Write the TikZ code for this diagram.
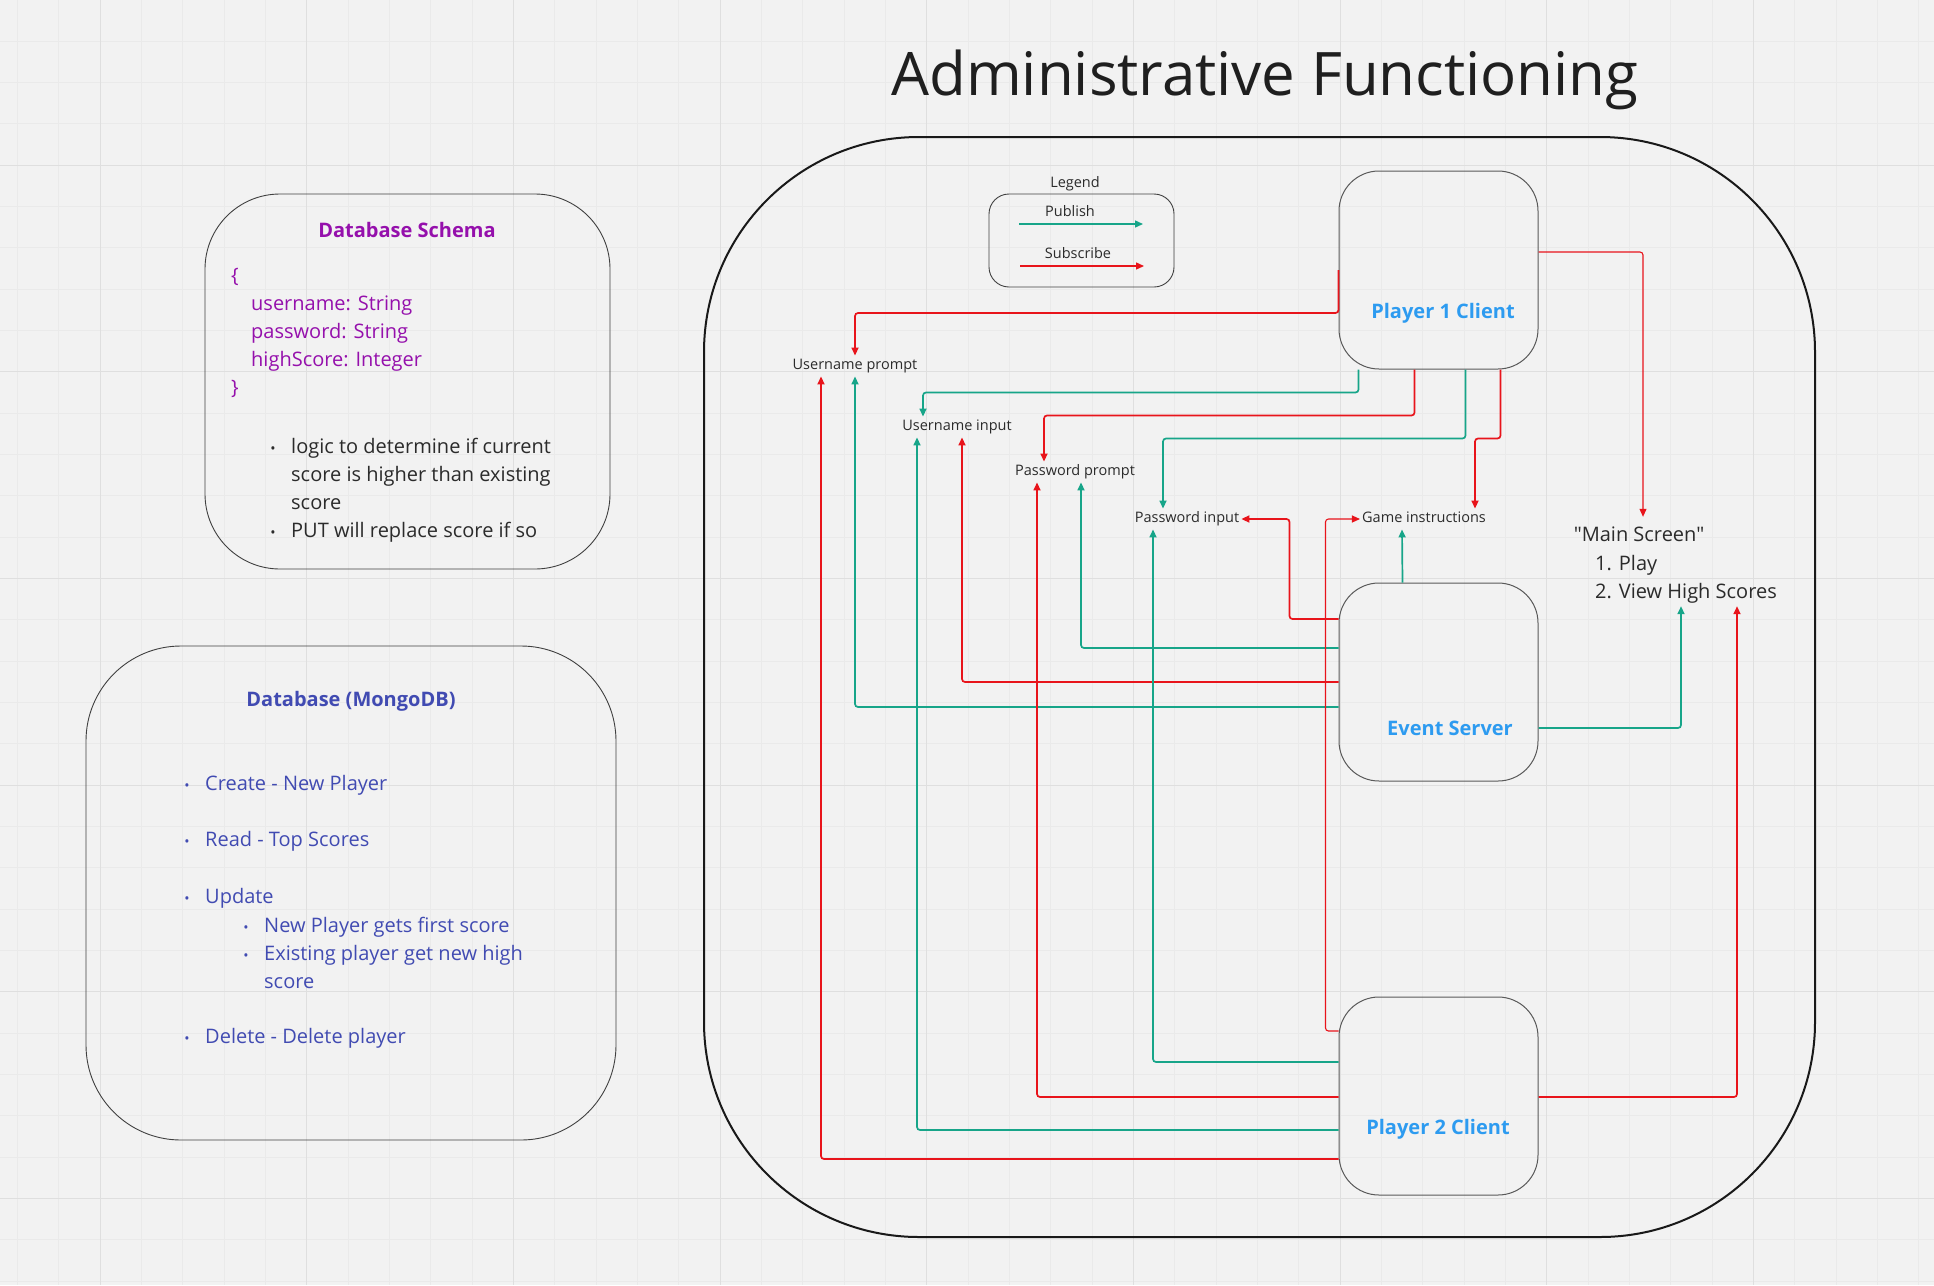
\documentclass[tikz,border=0pt]{standalone}
\usepackage{fontspec}
\setmainfont{Open Sans}[Ligatures=TeXOff]
\usetikzlibrary{arrows.meta}

\definecolor{boardbg}{HTML}{F2F2F2}
\definecolor{gridminor}{HTML}{EAEAEA}
\definecolor{gridmajor}{HTML}{DFDFDF}
\definecolor{pubgreen}{HTML}{17A589}
\definecolor{subred}{HTML}{E8141B}
\definecolor{clientblue}{HTML}{2D9BF0}
\definecolor{schemapurple}{HTML}{9510AC}
\definecolor{mongoblue}{HTML}{414BB2}
\definecolor{inktext}{HTML}{2B2B2B}

\newcommand{\fsz}[1]{\fontsize{#1}{#1}\selectfont}

\begin{document}
\begin{tikzpicture}[x=1pt,y=-1pt,
  client/.style={draw=black!65, line width=1pt, rounded corners=40pt,
    minimum width=199pt, minimum height=198pt, inner sep=0pt},
  clientname/.style={font=\fsz{20}\bfseries, text=clientblue, inner sep=0pt, anchor=base},
  board/.style={draw=black!75, line width=0.9pt, inner sep=0pt},
  lbl/.style={font=\fsz{14.5}, text=inktext, inner xsep=2pt, inner ysep=3pt,
    text height=11pt, text depth=3.5pt},
  pub/.style={draw=pubgreen, line width=1.7pt, rounded corners=3pt,
    -{Triangle[length=8pt,width=7pt]}},
  sub/.style={draw=subred, line width=1.7pt, rounded corners=3pt,
    -{Triangle[length=8pt,width=7pt]}},
]
\useasboundingbox (0,0) rectangle (1934,1285);

% ------------------------------------------------------------------
% Board background and grid (minor every 41.33, major every 206.67)
% ------------------------------------------------------------------
\fill[boardbg] (0,0) rectangle (1934,1285);
\foreach \i in {-2,...,44}{
  \pgfmathsetmacro{\gx}{100+41.333*\i}
  \draw[gridminor, line width=0.8pt] (\gx,0) -- (\gx,1285);
}
\foreach \j in {-3,...,27}{
  \pgfmathsetmacro{\gy}{165+41.333*\j}
  \draw[gridminor, line width=0.8pt] (0,\gy) -- (1934,\gy);
}
\foreach \i in {0,...,8}{
  \pgfmathsetmacro{\gx}{100+206.667*\i}
  \draw[gridmajor, line width=1pt] (\gx,0) -- (\gx,1285);
}
\foreach \j in {0,...,5}{
  \pgfmathsetmacro{\gy}{165+206.667*\j}
  \draw[gridmajor, line width=1pt] (0,\gy) -- (1934,\gy);
}

% bullet item: \dbitem{name}{dot x}{baseline y}{text}{colour}
\newcommand{\dbitem}[5]{%
  \node[font=\fsz{14}, text=#5, anchor=base, inner sep=0pt] (#1dot) at (#2,#3) {•};
  \node[font=\fsz{20}, text=#5, anchor=base west, inner sep=0pt] (#1) at (#2+18,#3) {#4};
}

% Title
\node[font=\fsz{60}, text=black!88, anchor=base] (title) at (1265,95) {Administrative Functioning};

% ------------------------------------------------------------------
% Database Schema
% ------------------------------------------------------------------
\node[board, rounded corners=75pt, minimum width=405pt, minimum height=375pt] (schema) at (407.5,381.5) {};
\node[font=\fsz{20}\bfseries, text=schemapurple, anchor=base, inner sep=0pt] (schematitle) at (407,237) {Database Schema};
\foreach \xx/\yy/\txt [count=\k] in {231/282/\{, 251/310/{username: String},
    251/338/{password: String}, 251/366/{highScore: Integer}, 231/394/\}}
  \node[font=\fsz{20}, text=schemapurple, anchor=base west, inner sep=0pt] (field\k) at (\xx,\yy) {\txt};
\dbitem{logicA}{273}{453}{logic to determine if current}{inktext}
\node[font=\fsz{20}, text=inktext, anchor=base west, inner sep=0pt] (logicB) at (291,481) {score is higher than existing};
\node[font=\fsz{20}, text=inktext, anchor=base west, inner sep=0pt] (logicC) at (291,509) {score};
\dbitem{putrule}{273}{537}{PUT will replace score if so}{inktext}

% ------------------------------------------------------------------
% Database (MongoDB)
% ------------------------------------------------------------------
\node[board, rounded corners=95pt, minimum width=530pt, minimum height=494pt] (mongo) at (351,893) {};
\node[font=\fsz{20}\bfseries, text=mongoblue, anchor=base, inner sep=0pt] (mongotitle) at (351,706) {Database (MongoDB)};
\dbitem{create}{187}{790}{Create - New Player}{mongoblue}
\dbitem{read}{187}{846}{Read - Top Scores}{mongoblue}
\dbitem{update}{187}{903}{Update}{mongoblue}
\dbitem{updnew}{246}{932}{New Player gets first score}{mongoblue}
\dbitem{updold}{246}{960}{Existing player get new high}{mongoblue}
\node[font=\fsz{20}, text=mongoblue, anchor=base west, inner sep=0pt] (updoldb) at (264,988) {score};
\dbitem{delete}{187}{1043}{Delete - Delete player}{mongoblue}

% ------------------------------------------------------------------
% Administrative frame
% ------------------------------------------------------------------
\draw[black!90, line width=2pt, rounded corners=215pt] (704,137) rectangle (1815,1237);

% Legend
\node[board, rounded corners=20pt, minimum width=185pt, minimum height=93pt] (legend) at (1081.5,240.5) {};
\node[lbl] (legendtitle) at (1075,184) {Legend};
\node[lbl] (publish) at (1070,213) {Publish};
\node[lbl] (subscribe) at (1078,255) {Subscribe};
\coordinate (pubA) at (1019,224);
\coordinate (pubB) at (1143,224);
\coordinate (subA) at (1020,266);
\coordinate (subB) at (1144,266);
\draw[pub, line width=1.4pt, rounded corners=0pt] (pubA) -- (pubB);
\draw[sub, line width=1.4pt, rounded corners=0pt] (subA) -- (subB);

% Clients and server
\node[client] (p1) at (1438.5,270) {};
\node[client] (es) at (1438.5,682) {};
\node[client] (p2) at (1438.5,1096) {};
\node[clientname] (p1name) at (1443,318) {Player 1 Client};
\node[clientname] (esname) at (1450,735) {Event Server};
\node[clientname] (p2name) at (1438,1134) {Player 2 Client};

% Screens
\node[lbl] (un) at (855,366) {Username prompt};
\node[lbl] (ui) at (957,427) {Username input};
\node[lbl] (pp) at (1075,472) {Password prompt};
\node[lbl] (pi) at (1187,519) {Password input};
\node[lbl] (gi) at (1424,519) {Game instructions};
\node[font=\fsz{20}, text=inktext, anchor=base, inner xsep=0pt, inner ysep=8pt, text height=16pt] (msT) at (1639,541) {"Main Screen"};
\node[font=\fsz{20}, text=inktext, anchor=base west, inner xsep=0pt, inner ysep=3pt] (ms1) at (1595,570) {1. Play};
\node[font=\fsz{20}, text=inktext, anchor=base west, inner xsep=0pt, inner ysep=3pt, text depth=5pt] (ms2) at (1595,598) {2. View High Scores};

% Player 1 connectors
\draw[sub] (p1.west) -- ++(0,43) -| (un.north);
\draw[pub] ([xshift=-80pt]p1.south) -- ++(0,23) -| ([xshift=-34pt]ui.north);
\draw[sub] ([xshift=-24pt]p1.south) -- ++(0,46) -| ([xshift=-31pt]pp.north);
\draw[pub] ([xshift=27pt]p1.south) -- ++(0,69) -| ([xshift=-24pt]pi.north);
\draw[sub] ([xshift=62pt]p1.south) -- ++(0,69) -| ([xshift=51pt]gi.north);
\draw[sub, line width=1.1pt] ([yshift=18pt]p1.east) -| ([xshift=4pt]msT.north);

% Event server connectors
\draw[pub] ([xshift=-36pt]es.north) -- ([xshift=-22pt]gi.south);
\draw[pub] ([yshift=-46pt]es.east) -| ([xshift=86pt]ms2.south west);
\draw[sub] ([yshift=63pt]es.west) -- ++(-49,0) |- (pi.east);
\draw[pub] ([yshift=34pt]es.west) -| ([xshift=6pt]pp.south);
\draw[sub] (es.west) -| ([xshift=5pt]ui.south);
\draw[pub] ([yshift=-25pt]es.west) -| (un.south);

% Player 2 connectors
\draw[sub, line width=1.1pt] ([yshift=65pt]p2.west) -- ++(-13,0) |- (gi.west);
\draw[pub] ([yshift=34pt]p2.west) -| ([xshift=-34pt]pi.south);
\draw[sub] ([yshift=-1pt]p2.west) -| ([xshift=-38pt]pp.south);
\draw[pub] ([yshift=-34pt]p2.west) -| ([xshift=-40pt]ui.south);
\draw[sub] ([yshift=-63pt]p2.west) -| ([xshift=-34pt]un.south);
\draw[sub] ([yshift=-1pt]p2.east) -| ([xshift=142pt]ms2.south west);

\end{tikzpicture}
\end{document}
